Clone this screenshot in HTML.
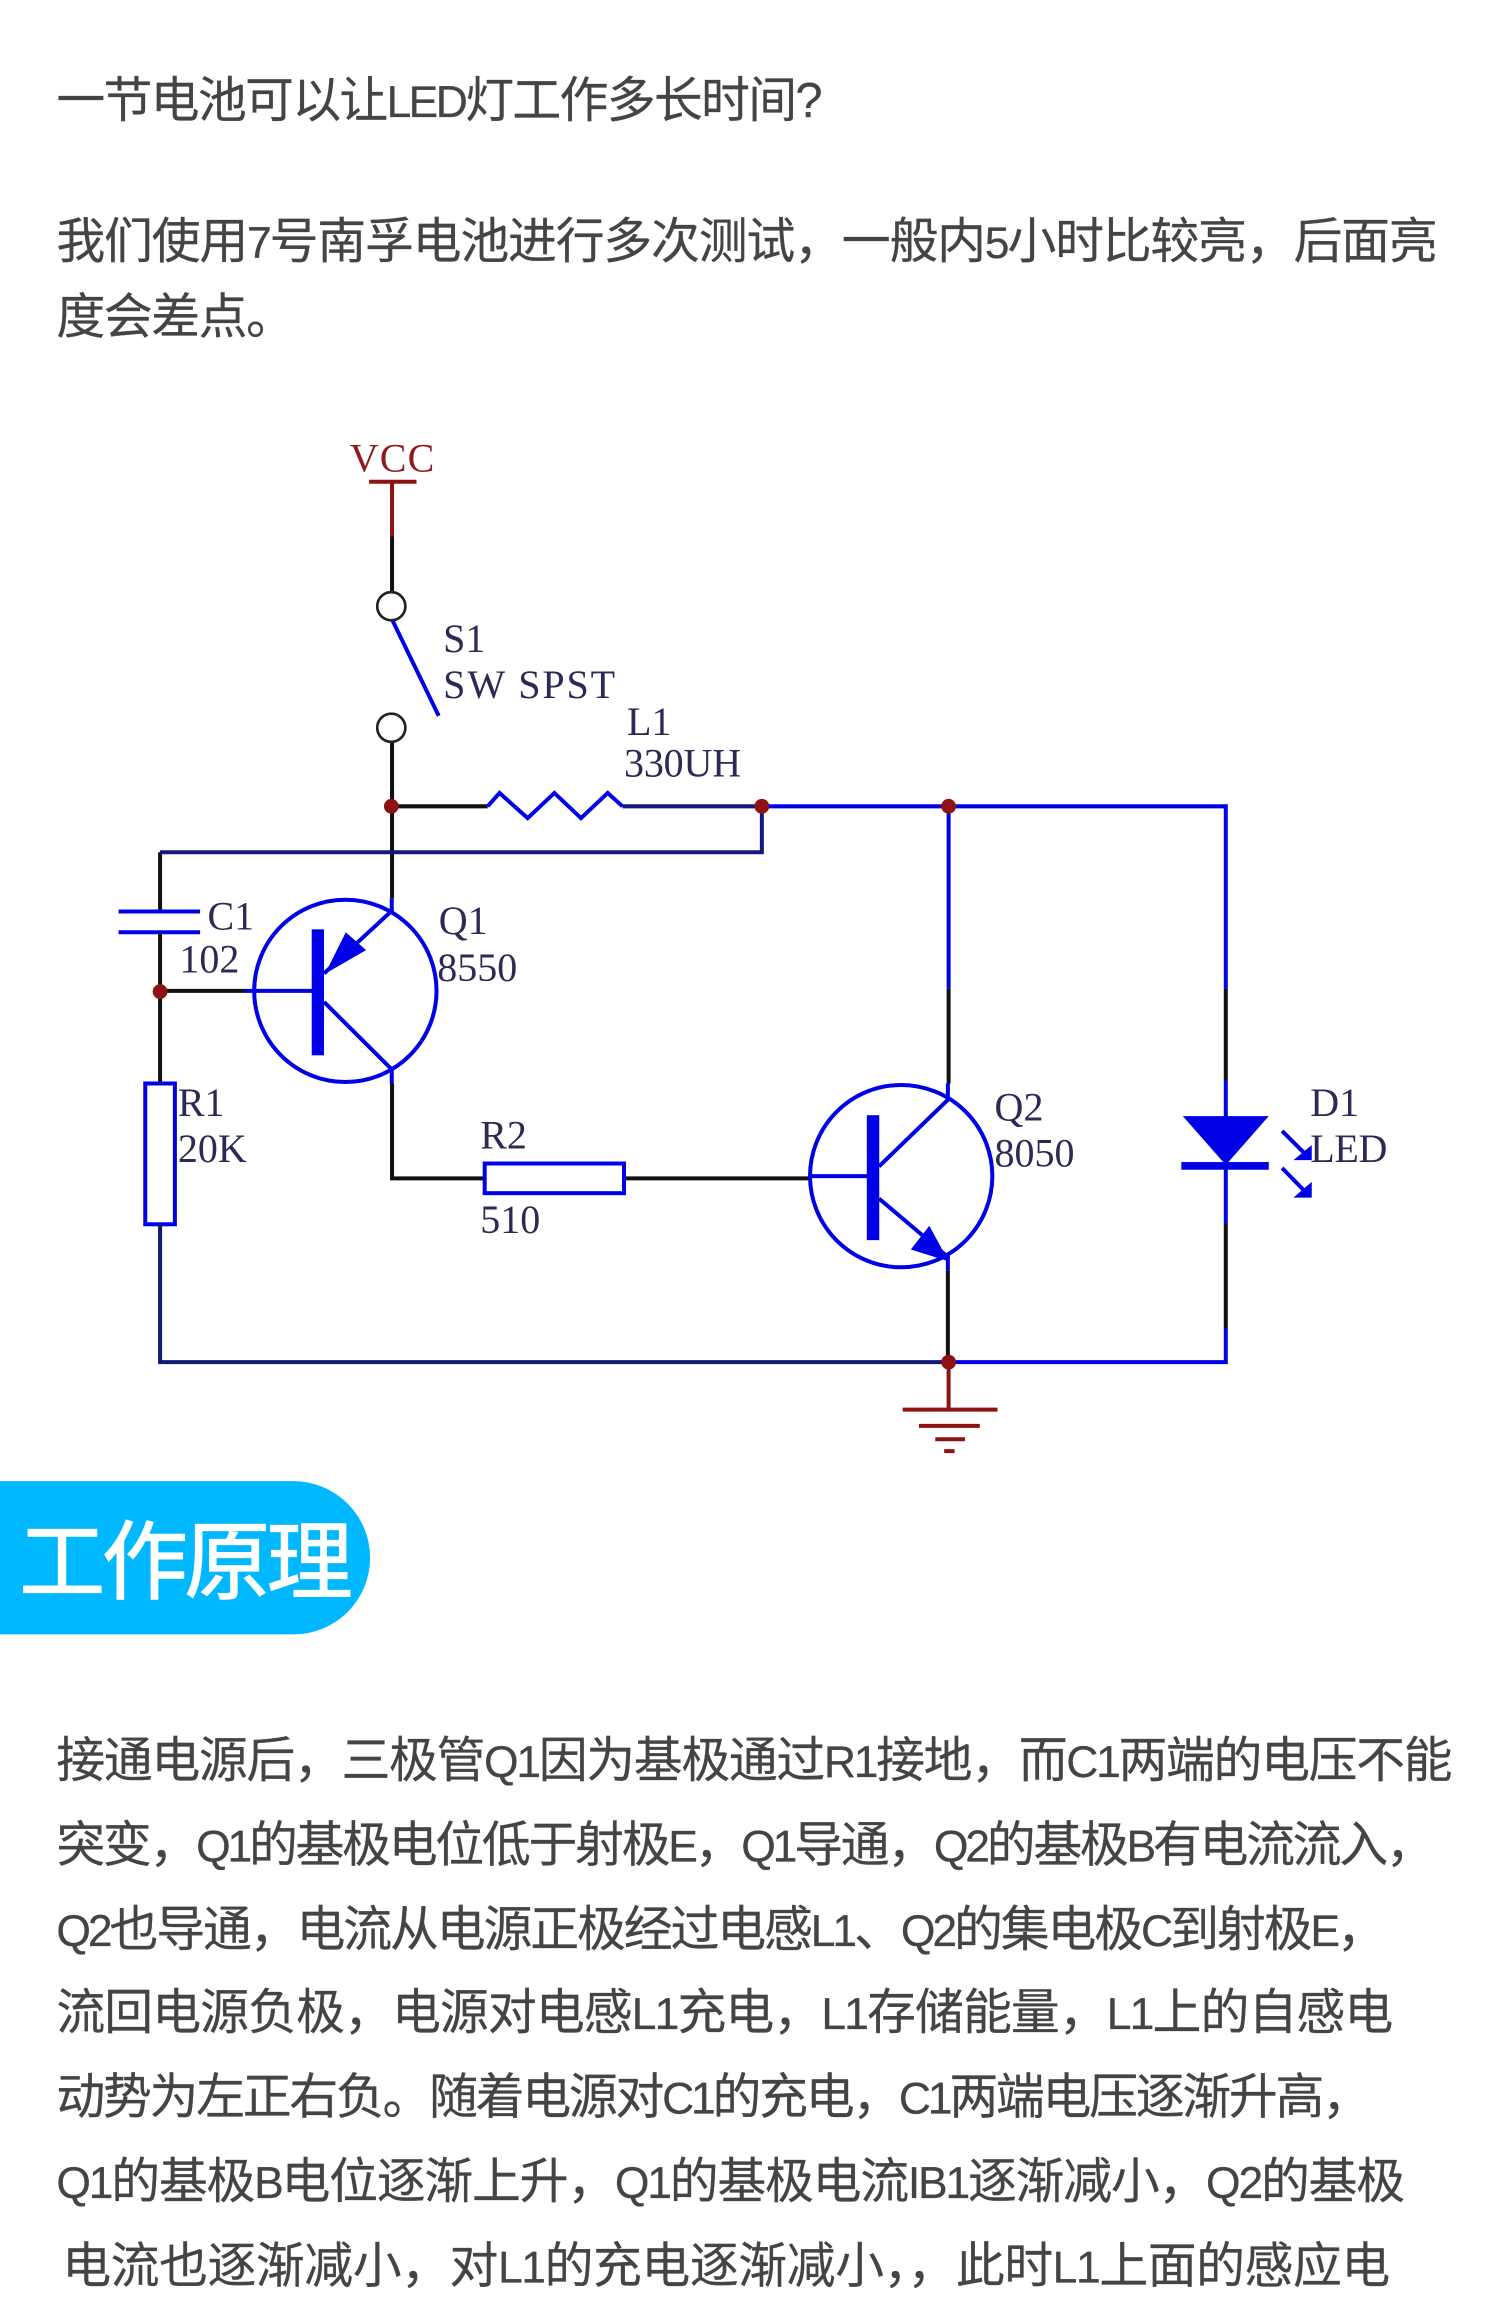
<!DOCTYPE html>
<html lang="zh"><head><meta charset="utf-8"><style>
html,body{margin:0;padding:0;background:#fff;width:1500px;height:2322px;overflow:hidden}
svg{display:block}
.t{font-family:"Liberation Sans","WenQuanYi Zen Hei","Noto Sans CJK SC",sans-serif;font-size:33px;fill:#444;stroke:#444;stroke-width:.15}
.t tspan{font-size:30px;letter-spacing:-.6px}
.l{font-family:"Liberation Serif",serif;font-size:27px;fill:#2a2a55}
.b{stroke:#0000e6;fill:none;stroke-width:2.7}
.k{stroke:#111;fill:none;stroke-width:2.7}
.n{stroke:#101a78;fill:none;stroke-width:2.7}
.r{stroke:#8e1212;fill:none;stroke-width:2.7}
</style></head><body>
<svg width="1500" height="2322" viewBox="0 0 1012 1566.6" preserveAspectRatio="none" xmlns="http://www.w3.org/2000/svg">
<rect width="1012" height="1567" fill="#fff"/>
<text class="t" x="38" y="79" textLength="517">一节电池可以让<tspan>LED</tspan>灯工作多长时间?</text>
<text class="t" x="38" y="174" textLength="932">我们使用<tspan>7</tspan>号南孚电池进行多次测试，一般内<tspan>5</tspan>小时比较亮，后面亮</text>
<text class="t" x="38" y="225" textLength="161">度会差点。</text>

<!-- VCC -->
<text class="l" x="236" y="318" style="fill:#8e1a1a" textLength="57">VCC</text>
<path class="r" d="M249 325H281M264.5 325V362"/>
<path class="k" d="M264.5 362V400M264.5 501V606"/>
<circle cx="264" cy="409" r="9.5" fill="#fff" stroke="#222" stroke-width="1.8"/>
<circle cx="264" cy="491" r="9.5" fill="#fff" stroke="#222" stroke-width="1.8"/>
<path class="b" d="M265 419L296 483"/>
<text class="l" x="299" y="440">S1</text>
<text class="l" x="299" y="471" textLength="116">SW SPST</text>
<text class="l" x="423" y="496">L1</text>
<text class="l" x="421" y="524" textLength="79">330UH</text>

<!-- inductor -->
<path class="k" d="M265 544H329"/>
<path class="b" d="M329 544L337 535L356 552L374 535L392 552L410 535L420 544"/>
<path class="n" d="M420 544H514V575H108"/>
<path class="b" d="M514 544H827V667M640 544V667"/>
<path class="k" d="M640 667V731"/>
<path class="k" d="M827 667V729"/>
<path class="k" d="M108 575V615"/>

<!-- C1 -->
<path class="b" d="M80 615H135M80 629H135"/>
<path class="k" d="M108 629V731"/>
<text class="l" x="140" y="627">C1</text>
<text class="l" x="121" y="656">102</text>

<!-- Q1 -->
<circle class="b" cx="233" cy="668.5" r="61.5"/>
<path class="k" d="M108 668.5H165"/>
<path class="b" d="M165 668.5H213"/>
<rect x="210.3" y="627" width="8.3" height="85" fill="#0000e6"/>
<path class="b" d="M218.6 656.8L264.3 614.5V606M218.6 676L264.3 721.5V731"/>
<polygon points="219.3,657 233.3,629 247,641" fill="#0000e6"/>
<text class="l" x="296" y="630">Q1</text>
<text class="l" x="295" y="662">8550</text>

<!-- R1 -->
<rect class="b" x="98" y="731" width="20" height="95" fill="#fff"/>
<text class="l" x="120" y="753">R1</text>
<text class="l" x="120" y="784">20K</text>
<path class="n" d="M108 826V919H640"/>

<!-- R2 -->
<path class="k" d="M264.5 731V795H327M421 795H546"/>
<rect class="b" x="327" y="785" width="94" height="20"/>
<text class="l" x="324" y="775">R2</text>
<text class="l" x="324" y="832">510</text>

<!-- Q2 -->
<circle class="b" cx="608" cy="793.5" r="61.5"/>
<path class="b" d="M546 793.5H589M593 787L639.5 742V731M593 808.6L639.5 848V857"/>
<rect x="584.8" y="752.4" width="8.4" height="84.3" fill="#0000e6"/>
<polygon points="640,851 627,827 614.5,843" fill="#0000e6"/>
<path class="k" d="M639.5 857V919"/>
<text class="l" x="671" y="756">Q2</text>
<text class="l" x="671" y="787">8050</text>

<!-- D1 -->
<path class="b" d="M827 729V825.5M827 896V919H640"/>
<path class="k" d="M827 825.5V896"/>
<polygon points="798,753 856,753 827,786" fill="#0000e6"/>
<rect x="797" y="784" width="59" height="5.2" fill="#0000e6"/>
<path class="b" d="M865 763L883 781M865 788L883 806.5"/>
<polygon points="885,772.6 885,782.7 872.6,782.7" fill="#0000e6"/>
<polygon points="885,797.4 885,808 872.6,808" fill="#0000e6"/>
<text class="l" x="884" y="753">D1</text>
<text class="l" x="884" y="784" textLength="52">LED</text>

<!-- ground -->
<path class="r" d="M640 919V951M609 951H673M620 962H661M631 971H651M637 979H644"/>

<!-- junctions -->
<g fill="#8e1212">
<circle cx="264" cy="544" r="5"/><circle cx="514" cy="544" r="5"/><circle cx="640" cy="544" r="5"/>
<circle cx="108" cy="669" r="5"/><circle cx="640" cy="919" r="5"/>
</g>

<!-- banner -->
<path d="M0 999.3H198A51.7 51.7 0 0 1 198 1102.7H0Z" fill="#00b8ff"/>
<text x="13" y="1074" textLength="225" style="font-family:'WenQuanYi Zen Hei','Noto Sans CJK SC',sans-serif;font-size:58px;fill:#fff;stroke:#fff;stroke-width:.8">工作原理</text>

<!-- body -->
<text class="t" x="38" y="1199" textLength="942">接通电源后，三极管<tspan>Q1</tspan>因为基极通过<tspan>R1</tspan>接地，而<tspan>C1</tspan>两端的电压不能</text>
<text class="t" x="38" y="1256" textLength="930">突变，<tspan>Q1</tspan>的基极电位低于射极<tspan>E</tspan>，<tspan>Q1</tspan>导通，<tspan>Q2</tspan>的基极<tspan>B</tspan>有电流流入，</text>
<text class="t" x="38" y="1313" textLength="897"><tspan>Q2</tspan>也导通，电流从电源正极经过电感<tspan>L1</tspan>、<tspan>Q2</tspan>的集电极<tspan>C</tspan>到射极<tspan>E</tspan>，</text>
<text class="t" x="38" y="1369" textLength="902">流回电源负极，电源对电感<tspan>L1</tspan>充电，<tspan>L1</tspan>存储能量，<tspan>L1</tspan>上的自感电</text>
<text class="t" x="38" y="1426" textLength="887">动势为左正右负。随着电源对<tspan>C1</tspan>的充电，<tspan>C1</tspan>两端电压逐渐升高，</text>
<text class="t" x="38" y="1483" textLength="910"><tspan>Q1</tspan>的基极<tspan>B</tspan>电位逐渐上升，<tspan>Q1</tspan>的基极电流<tspan>IB1</tspan>逐渐减小，<tspan>Q2</tspan>的基极</text>
<text class="t" x="42" y="1540" textLength="896">电流也逐渐减小，对<tspan>L1</tspan>的充电逐渐减小，，此时<tspan>L1</tspan>上面的感应电</text>
</svg>
</body></html>
